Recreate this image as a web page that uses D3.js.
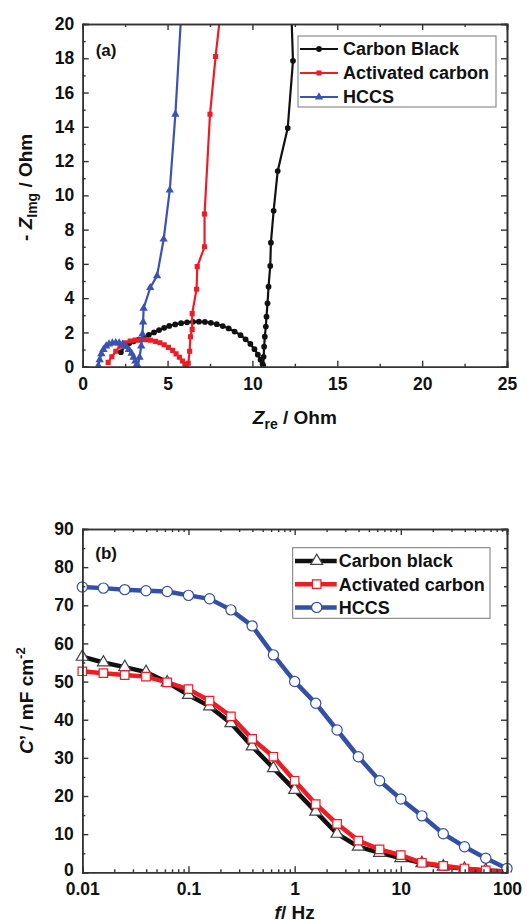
<!DOCTYPE html>
<html>
<head>
<meta charset="utf-8">
<script src="https://cdn.jsdelivr.net/npm/d3@7"></script>
<style>
  body { margin: 0; background: #fff; }
  text { font-family: "Liberation Sans", Arial, sans-serif; font-weight: bold; fill: #111; }
</style>
</head>
<body>
<svg id="fig" width="527" height="922"></svg>
<script>
// ---- panel (a): Nyquist, [Zre, -Zimg] in Ohm
const nyqCarbonBlack = [
  [2.25,0.85],[2.5,1.2],[2.75,1.38],[3.0,1.48],[3.3,1.58],[3.6,1.72],[3.9,1.86],[4.2,2.0],
  [4.5,2.14],[4.8,2.27],[5.1,2.38],[5.45,2.47],[5.8,2.54],[6.15,2.59],[6.5,2.62],[6.85,2.63],
  [7.2,2.61],[7.55,2.56],[7.9,2.48],[8.25,2.37],[8.6,2.23],[8.95,2.05],[9.3,1.84],[9.6,1.6],
  [9.88,1.33],[10.12,1.02],[10.32,0.7],[10.48,0.4],[10.6,0.15],[10.64,0.05],[10.66,0.58],
  [10.69,1.17],[10.73,1.75],[10.79,2.34],[10.83,2.92],[10.89,3.7],[10.95,4.67],[11.05,5.88],
  [11.09,7.24],[11.25,9.1],[11.49,11.42],[12.08,13.93],[12.39,17.85],[12.3,20.5]
];
const nyqActivated = [
  [1.5,0.25],[1.72,0.58],[1.95,0.9],[2.2,1.2],[2.5,1.4],[2.8,1.5],[3.1,1.55],[3.4,1.57],
  [3.7,1.57],[4.0,1.54],[4.3,1.48],[4.55,1.4],[4.8,1.28],[5.05,1.13],[5.3,0.95],[5.5,0.75],
  [5.7,0.55],[5.88,0.33],[6.02,0.15],[6.12,0.05],[6.22,0.2],[6.3,0.9],[6.35,1.75],[6.45,2.18],
  [6.45,3.1],[6.71,4.52],[6.75,5.84],[7.18,7.0],[7.18,8.91],[7.5,14.73],[7.83,18.1],[8.1,20.5]
];
const nyqHCCS = [
  [0.92,0.05],[1.0,0.4],[1.1,0.75],[1.22,1.0],[1.38,1.2],[1.55,1.32],[1.75,1.38],[1.95,1.4],
  [2.15,1.38],[2.35,1.3],[2.55,1.17],[2.72,1.0],[2.88,0.78],[3.0,0.55],[3.1,0.32],[3.18,0.12],
  [3.25,0.05],[3.35,0.55],[3.45,1.2],[3.52,1.9],[3.56,2.6],[3.59,3.41],[3.98,4.61],[4.38,5.3],
  [4.77,7.44],[5.13,10.3],[5.46,14.73],[5.8,20.5]
];
const nyqSeriesNames = ["Carbon Black", "Activated carbon", "HCCS"];
const nyqXTicks = [0, 5, 10, 15, 20, 25];
const nyqYTicks = [0, 2, 4, 6, 8, 10, 12, 14, 16, 18, 20];

// ---- panel (b): C' vs frequency
const freqHz = [0.01,0.0158,0.0251,0.0398,0.0631,0.1,0.158,0.251,0.398,0.631,1,1.58,2.51,3.98,6.31,10,15.8,25.1,39.8,63.1,100];
const capCarbonBlack = [56.5,55.0,53.8,52.5,49.8,46.5,43.5,39.1,33.0,27.3,21.6,15.9,10.1,6.7,5.1,3.7,2.4,1.5,0.9,0.5,0.2];
const capActivated   = [52.7,52.2,51.7,51.3,49.8,48.0,45.0,40.9,35.0,30.3,24.0,17.9,12.7,8.3,6.0,4.5,2.5,1.7,1.0,0.5,0.2];
const capHCCS        = [74.8,74.5,74.1,73.8,73.6,72.6,71.7,68.8,64.6,57.0,50.0,44.3,37.3,30.3,24.0,19.2,14.8,10.1,6.7,3.7,1.0];
const capSeriesNames = ["Carbon black", "Activated carbon", "HCCS"];
const capXTicks = [0.01, 0.1, 1, 10, 100];
const capYTicks = [0, 10, 20, 30, 40, 50, 60, 70, 80, 90];

const svg = d3.select('#fig');
const AXIS = '#333';
const TICK_FONT = 17.5;

// frame with inward ticks on all four sides
function frame(g, x, y, xMajor, xMinor, yMajor, yMinor, xFmt) {
  const w = x.range()[1], h = y.range()[0];
  g.append('g').attr('transform', `translate(0,${h})`)
    .call(d3.axisBottom(x).tickValues(xMajor).tickSize(-6).tickPadding(10.5).tickFormat(xFmt));
  g.append('g').attr('transform', `translate(0,${h})`)
    .call(d3.axisBottom(x).tickValues(xMinor).tickSize(-3).tickFormat(''));
  g.append('g').call(d3.axisTop(x).tickValues(xMajor).tickSize(-6).tickFormat(''));
  g.append('g').call(d3.axisTop(x).tickValues(xMinor).tickSize(-3).tickFormat(''));
  const left = g.append('g').attr('class', 'yleft')
    .call(d3.axisLeft(y).tickValues(yMajor).tickSize(-6).tickPadding(8.5));
  g.append('g').call(d3.axisLeft(y).tickValues(yMinor).tickSize(-3).tickFormat(''));
  g.append('g').attr('transform', `translate(${w},0)`)
    .call(d3.axisRight(y).tickValues(yMajor).tickSize(-6).tickFormat(''));
  g.append('g').attr('transform', `translate(${w},0)`)
    .call(d3.axisRight(y).tickValues(yMinor).tickSize(-3).tickFormat(''));
  g.selectAll('.domain').attr('stroke', AXIS).attr('stroke-width', 1.6);
  g.selectAll('.tick line').attr('stroke', AXIS).attr('stroke-width', 1.4);
  g.selectAll('.tick text').attr('font-size', TICK_FONT).attr('font-family', '"Liberation Sans", Arial, sans-serif')
    .attr('font-weight', 'bold').attr('fill', '#111');
  return left;
}

// ================= panel (a) =================
const A = { left: 82.7, top: 24, width: 424.3, height: 342.7 };
const ga = svg.append('g').attr('transform', `translate(${A.left},${A.top})`);
const xa = d3.scaleLinear().domain([0, 25]).range([0, A.width]);
const ya = d3.scaleLinear().domain([0, 20]).range([A.height, 0]);

ga.append('clipPath').attr('id', 'clipA').append('rect')
  .attr('width', A.width).attr('height', A.height);

const nyq = [
  { name: nyqSeriesNames[0], data: nyqCarbonBlack, color: '#111', sym: d3.symbolCircle, size: 26 },
  { name: nyqSeriesNames[1], data: nyqActivated, color: '#ee1c24', sym: d3.symbolSquare, size: 26 },
  { name: nyqSeriesNames[2], data: nyqHCCS, color: '#3a52b4', sym: d3.symbolTriangle, size: 30 }
];
const lineA = d3.line().x(d => xa(d[0])).y(d => ya(d[1]));
const plotA = ga.append('g').attr('clip-path', 'url(#clipA)');
nyq.forEach(s => {
  plotA.append('path').datum(s.data).attr('d', lineA)
    .attr('fill', 'none').attr('stroke', s.color).attr('stroke-width', 2.2);
  plotA.selectAll(null).data(s.data).enter().append('path')
    .attr('d', d3.symbol(s.sym, s.size))
    .attr('transform', d => `translate(${xa(d[0])},${ya(d[1])})`)
    .attr('fill', s.color);
});

frame(ga, xa, ya, nyqXTicks, d3.range(2.5, 25, 5), nyqYTicks, d3.range(1, 20, 2), d3.format('d'));

ga.append('text').attr('x', 13).attr('y', 32).attr('font-size', 17).text('(a)');

// legend (a)
const legA = ga.append('g').attr('transform', `translate(${298 - A.left},${36 - A.top})`);
legA.append('rect').attr('width', 198).attr('height', 71)
  .attr('fill', '#fff').attr('stroke', '#777').attr('stroke-width', 1);
nyq.forEach((s, i) => {
  const cy = 13 + i * 24;
  legA.append('line').attr('x1', 2).attr('x2', 40).attr('y1', cy).attr('y2', cy)
    .attr('stroke', s.color).attr('stroke-width', 2.2);
  legA.append('path').attr('d', d3.symbol(s.sym, s.size)).attr('transform', `translate(21,${cy})`)
    .attr('fill', s.color);
  legA.append('text').attr('x', 45).attr('y', cy).attr('dy', '0.36em')
    .attr('font-size', 18).text(s.name);
});

// axis titles (a)
const xtA = svg.append('text').attr('x', A.left + A.width / 2).attr('y', 424)
  .attr('text-anchor', 'middle').attr('font-size', 19);
xtA.append('tspan').attr('font-style', 'italic').text('Z');
xtA.append('tspan').attr('font-size', 14).attr('dy', 5).text('re');
xtA.append('tspan').attr('dy', -5).text(' / Ohm');

const ytA = svg.append('text')
  .attr('transform', `translate(32,${A.top + A.height / 2 - 8}) rotate(-90)`)
  .attr('text-anchor', 'middle').attr('font-size', 19);
ytA.append('tspan').text('- ');
ytA.append('tspan').attr('font-style', 'italic').text('Z');
ytA.append('tspan').attr('font-size', 14).attr('dy', 5).text('Img');
ytA.append('tspan').attr('dy', -5).text(' / Ohm');

// ================= panel (b) =================
const B = { left: 82.3, top: 529, width: 424.7, height: 343.3 };
const gb = svg.append('g').attr('transform', `translate(${B.left},${B.top})`);
const xb = d3.scaleLog().domain([0.01, 100]).range([0, B.width]);
const yb = d3.scaleLinear().domain([0, 90]).range([B.height, 0]);

gb.append('clipPath').attr('id', 'clipB').append('rect')
  .attr('x', -8).attr('width', B.width + 16).attr('height', B.height);

const cap = [
  { name: capSeriesNames[0], vals: capCarbonBlack, color: '#111', mark: '#444', sym: d3.symbolTriangle, size: 62 },
  { name: capSeriesNames[1], vals: capActivated, color: '#ee1c24', mark: '#ee1c24', sym: d3.symbolSquare, size: 72 },
  { name: capSeriesNames[2], vals: capHCCS, color: '#3350a6', mark: '#3350a6', sym: d3.symbolCircle, size: 82 }
];
const lineB = d3.line().x((d, i) => xb(freqHz[i])).y(d => yb(d));
const plotB = gb.append('g').attr('clip-path', 'url(#clipB)');
cap.forEach(s => {
  plotB.append('path').datum(s.vals).attr('d', lineB)
    .attr('fill', 'none').attr('stroke', s.color).attr('stroke-width', 4.5);
});
cap.forEach(s => {
  plotB.selectAll(null).data(s.vals).enter().append('path')
    .attr('d', d3.symbol(s.sym, s.size))
    .attr('transform', (d, i) => `translate(${xb(freqHz[i])},${yb(d)})`)
    .attr('fill', '#fff').attr('stroke', s.mark).attr('stroke-width', 1.2);
});

const minorLog = [];
[0.01, 0.1, 1, 10].forEach(dec => d3.range(2, 10).forEach(k => minorLog.push(dec * k)));
const leftB = frame(gb, xb, yb, capXTicks, minorLog, capYTicks, d3.range(5, 90, 10), d3.format('~g'));
// lift the bottom "0" a little so it clears the "0.01" below it
leftB.selectAll('.tick').filter(d => d === 0).select('text').attr('y', -2.5);

gb.append('text').attr('x', 13).attr('y', 30).attr('font-size', 17).text('(b)');

// legend (b)
const legB = gb.append('g').attr('transform', `translate(${292.7 - B.left},${547.7 - B.top})`);
legB.append('rect').attr('width', 197.3).attr('height', 70.6)
  .attr('fill', '#fff').attr('stroke', '#777').attr('stroke-width', 1);
cap.forEach((s, i) => {
  const cy = 13.3 + i * 23.2;
  legB.append('line').attr('x1', 2.3).attr('x2', 44).attr('y1', cy).attr('y2', cy)
    .attr('stroke', s.color).attr('stroke-width', 4.5);
  legB.append('path').attr('d', d3.symbol(s.sym, s.size)).attr('transform', `translate(24,${cy})`)
    .attr('fill', '#fff').attr('stroke', s.mark).attr('stroke-width', 1.2);
  legB.append('text').attr('x', 46).attr('y', cy).attr('dy', '0.36em')
    .attr('font-size', 18).text(s.name);
});

// axis titles (b)
const xtB = svg.append('text').attr('x', B.left + B.width / 2).attr('y', 919)
  .attr('text-anchor', 'middle').attr('font-size', 19);
xtB.append('tspan').attr('font-style', 'italic').text('f');
xtB.append('tspan').text('/ Hz');

const ytB = svg.append('text')
  .attr('transform', `translate(33,${B.top + B.height / 2}) rotate(-90)`)
  .attr('text-anchor', 'middle').attr('font-size', 19);
ytB.append('tspan').attr('font-style', 'italic').text('C');
ytB.append('tspan').text('\u2019 / mF cm');
ytB.append('tspan').attr('font-size', 13).attr('dy', -8).text('-2');
</script>
</body>
</html>
